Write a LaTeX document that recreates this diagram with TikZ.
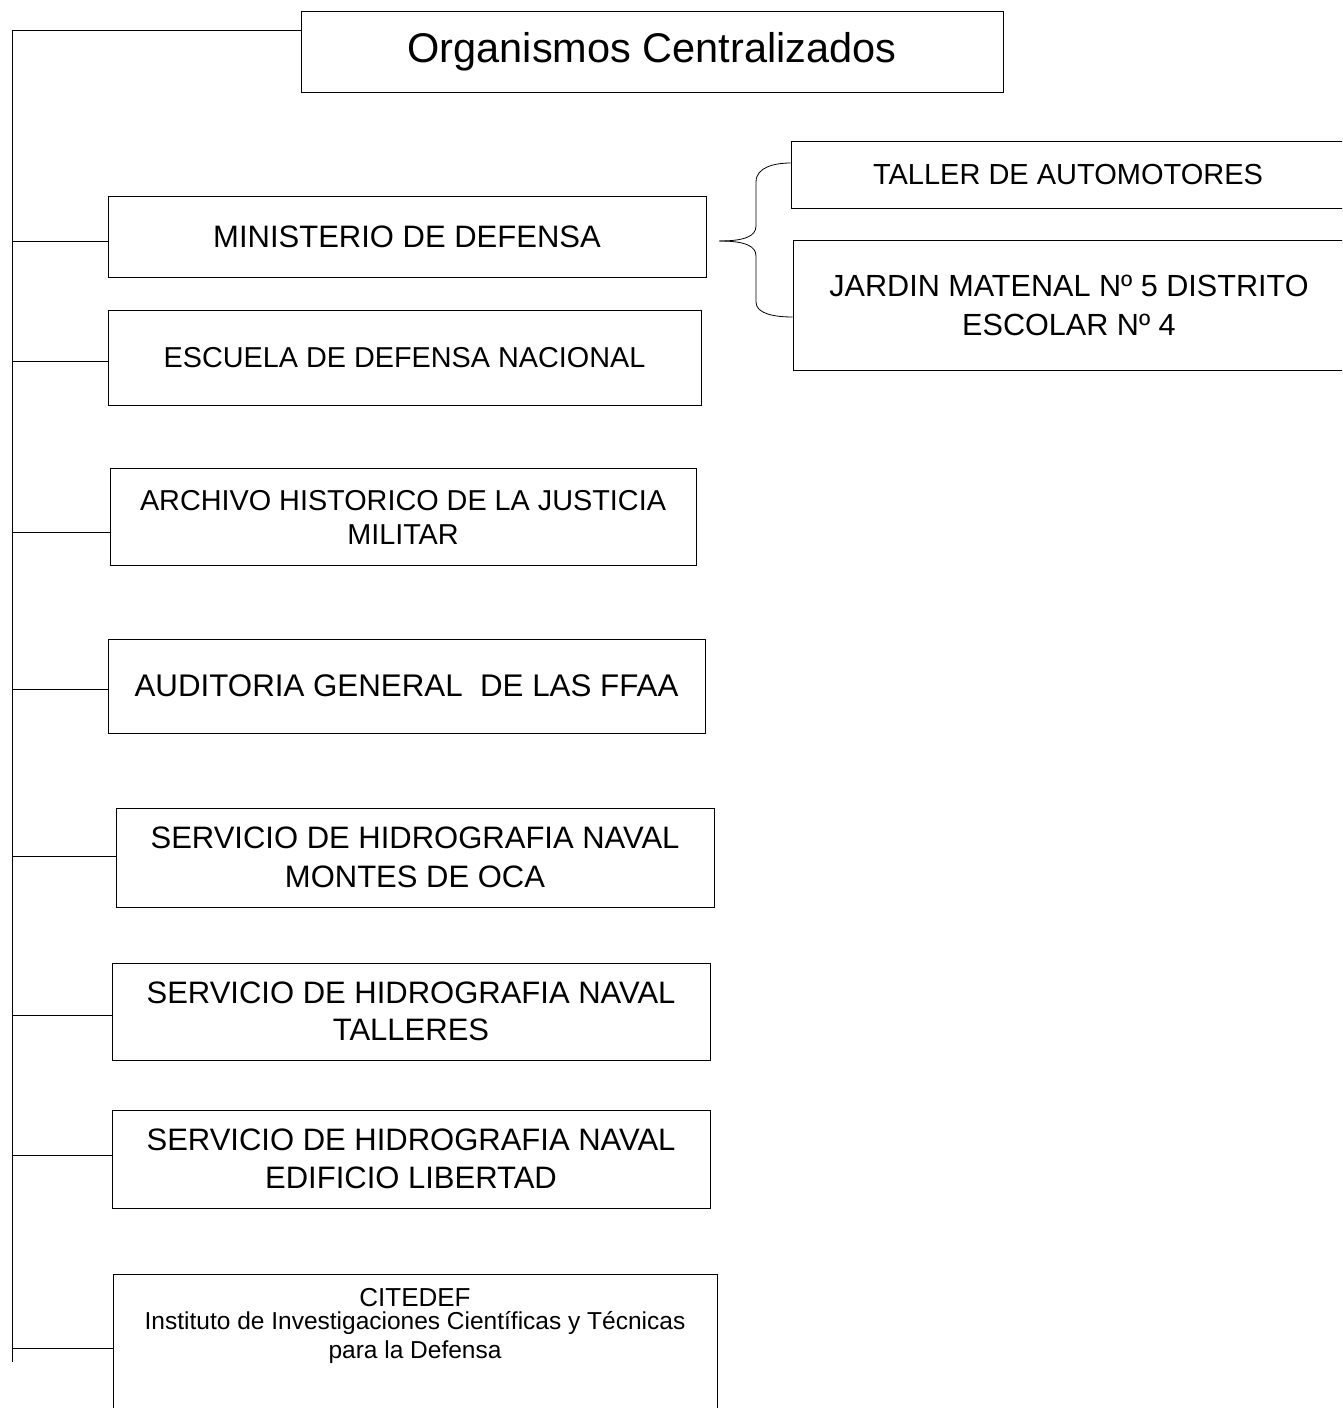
\documentclass[tikz,border=0pt]{standalone}
\usepackage{fontspec}
\setmainfont{Liberation Sans}
\usepackage{tikz}
\usetikzlibrary{positioning}

\newcommand{\fs}[2]{\fontsize{#1}{#2}\selectfont}

\begin{document}
\begin{tikzpicture}[x=1pt, y=-1pt, line width=0.8pt,
        box/.style={draw, align=center, inner sep=0pt}]
        \clip (0,0) rectangle (1342,1408);
        \node[box, minimum width=702, minimum height=81, font=\fs{41.5}{48}] (title) at (652,51.5) {Organismos Centralizados};
        \node[box, minimum width=598, minimum height=81, font=\fs{31}{36}] (min) at (407,236.5) {MINISTERIO DE DEFENSA};
        \node[box, minimum width=554, minimum height=67, font=\fs{29}{34}] (taller) at (1068,174.5) {TALLER DE AUTOMOTORES};
        \node[box, minimum width=552, minimum height=130, font=\fs{30.6}{39}] (jardin) at (1069,305) {JARDIN MATENAL Nº 5 DISTRITO\\ESCOLAR Nº 4};
        \node[box, minimum width=593, minimum height=95, font=\fs{28.8}{34}] (escuela) at (404.5,357.5) {ESCUELA DE DEFENSA NACIONAL};
        \node[box, minimum width=586, minimum height=97, font=\fs{28.8}{34}] (archivo) at (403,517) {ARCHIVO HISTORICO DE LA JUSTICIA\\MILITAR};
        \node[box, minimum width=597, minimum height=94, font=\fs{31.3}{36}] (auditoria) at (406.5,686) {AUDITORIA GENERAL \ DE LAS FFAA};
        \node[box, minimum width=598, minimum height=99, font=\fs{31}{39}] (montes) at (415,857.5) {SERVICIO DE HIDROGRAFIA NAVAL\\MONTES DE OCA};
        \node[box, minimum width=598, minimum height=97, font=\fs{31}{37}] (talleres) at (411,1011.5) {SERVICIO DE HIDROGRAFIA NAVAL\\TALLERES};
        \node[box, minimum width=598, minimum height=98, font=\fs{31}{38}] (edificio) at (411,1159) {SERVICIO DE HIDROGRAFIA NAVAL\\EDIFICIO LIBERTAD};
        \node[box, minimum width=604, minimum height=160, anchor=north] (citedef) at (415,1274) {};
        \node[align=center, inner sep=0pt, anchor=north, font=\fs{24.5}{29}] (citedeftx) at ([yshift=-14pt]citedef.north) {{\fs{26}{26}CITEDEF}\\[-6pt]Instituto de Investigaciones Científicas y Técnicas\\para la Defensa};

        \coordinate (trunktop) at (12,30);
        \coordinate (trunkbot) at (12,1362);
        \draw (trunktop) -- (trunkbot);
        \foreach \n/\dy in {title/21.5, min/-4.5, escuela/-3.5, archivo/-15, auditoria/-3, montes/1.5, talleres/-3.5, edificio/4}{
            \coordinate (b\n) at ([yshift=\dy pt]\n.west);
            \draw (b\n) -- (b\n -| trunktop);
        }
        \coordinate (bcitedef) at ([yshift=-74pt]citedef.north west);
        \draw (bcitedef) -- (bcitedef -| trunktop);

        \coordinate (brtip) at ([shift={(13pt,-4.5pt)}]min.east);
        \coordinate (brtop) at ([yshift=11.5pt]taller.west);
        \coordinate (brbot) at ([yshift=-12pt]jardin.west);
        \draw (brtip) .. controls (745,241) and (756,236) .. (756,226) -- (756,182) .. controls (756,167) and (775,163) .. (brtop);
        \draw (brtip) .. controls (745,241) and (756,246) .. (756,256) -- (756,302) .. controls (756,314) and (775,317) .. (brbot);
    \end{tikzpicture}
\end{document}
